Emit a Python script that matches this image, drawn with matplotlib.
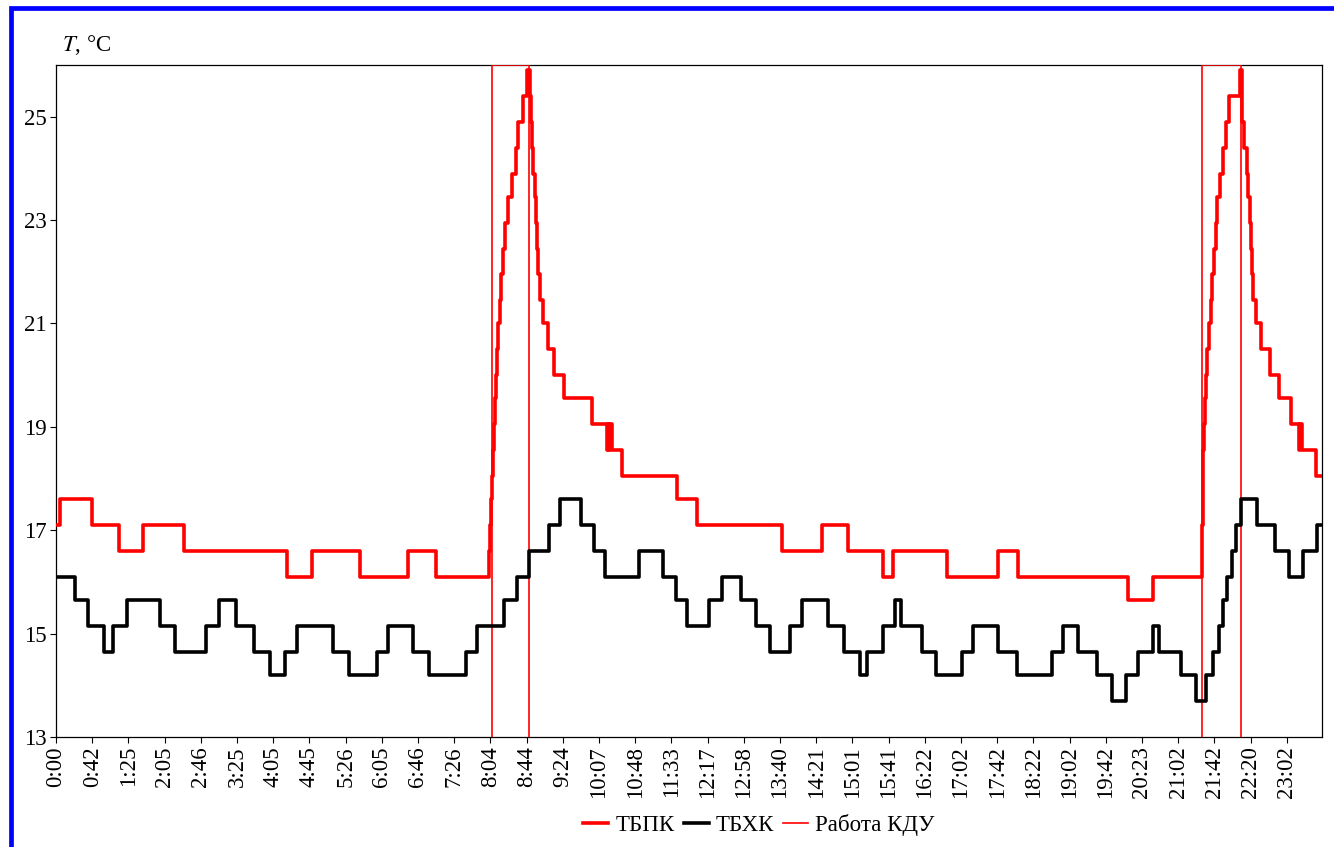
import matplotlib
matplotlib.use("Agg")
import matplotlib.pyplot as plt
from matplotlib.patches import Rectangle
from matplotlib.lines import Line2D

plt.rcParams['font.family'] = ['Liberation Serif', 'DejaVu Serif']
plt.rcParams['mathtext.fontset'] = 'stix'

# ---- data -------------------------------------------------------------
# time-axis labels (one label every 40 samples)
tick_labels = ["0:00", "0:42", "1:25", "2:05", "2:46", "3:25", "4:05", "4:45",
               "5:26", "6:05", "6:46", "7:26", "8:04", "8:44", "9:24", "10:07",
               "10:48", "11:33", "12:17", "12:58", "13:40", "14:21", "15:01",
               "15:41", "16:22", "17:02", "17:42", "18:22", "19:02", "19:42",
               "20:23", "21:02", "21:42", "22:20", "23:02"]
samples_per_label = 40
n_samples = 1400

# ТБПК: sample index where a new value starts, and that value
tbpk_idx = [0, 4, 40, 70, 96, 141, 255, 283, 336, 389, 420,
            479, 480, 481, 482, 483, 484, 485, 486, 487, 488,
            491, 492, 494, 496, 499, 504, 508, 511, 516, 520,
            524, 525, 526, 527, 529, 530, 532, 533, 535, 538, 544, 550, 561,
            592, 609, 610, 611, 612, 614, 625, 686, 708, 802, 846, 875, 914,
            925, 985, 1041, 1063, 1185, 1212,
            1266, 1267, 1268, 1269, 1270, 1271, 1272, 1274, 1276, 1277, 1280,
            1282, 1283, 1286, 1290, 1293, 1296, 1308,
            1311, 1313, 1316, 1317, 1319, 1321, 1322, 1323, 1326, 1332, 1341,
            1352, 1365, 1374, 1375, 1377, 1392, 1399]
tbpk_val = [17.1, 17.6, 17.1, 16.6, 17.1, 16.6, 16.1, 16.6, 16.1, 16.6, 16.1,
            16.6, 17.1, 17.6, 18.05, 18.55, 19.05, 19.55, 20.0, 20.5, 21.0,
            21.45, 21.95, 22.45, 22.95, 23.45, 23.9, 24.4, 24.9, 25.4, 25.9,
            25.4, 24.9, 24.4, 23.9, 23.45, 22.95, 22.45, 21.95, 21.45, 21.0, 20.5, 20.0, 19.55,
            19.05, 18.55, 19.05, 18.55, 19.05, 18.55, 18.05, 17.6, 17.1, 16.6, 17.1, 16.6, 16.1,
            16.6, 16.1, 16.6, 16.1, 15.65, 16.1,
            17.1, 18.05, 18.55, 19.05, 19.55, 20.0, 20.5, 21.0, 21.45, 21.95, 22.45,
            22.95, 23.45, 23.9, 24.4, 24.9, 25.4, 25.9,
            24.9, 24.4, 23.9, 23.45, 22.95, 22.45, 21.95, 21.45, 21.0, 20.5, 20.0,
            19.55, 19.05, 18.55, 19.05, 18.55, 18.05, 18.05]

# ТБХК
tbhk_idx = [0, 21, 35, 53, 63, 78, 115, 131, 166, 180, 199, 219, 236, 253, 266,
            306, 324, 355, 367, 394, 412, 453, 465, 495, 509, 523, 545, 557, 580,
            595, 607, 644, 671, 685, 697, 722, 736, 757, 774, 789, 811, 824, 853,
            871, 888, 896, 914, 927, 934, 957, 972, 1001, 1013, 1041, 1062, 1101,
            1113, 1129, 1150, 1167, 1182, 1196, 1212, 1219, 1243, 1260, 1271,
            1279, 1285, 1290, 1294, 1300, 1304, 1309, 1327, 1347, 1363, 1378,
            1393, 1399]
tbhk_val = [16.1, 15.65, 15.15, 14.65, 15.15, 15.65, 15.15, 14.65, 15.15, 15.65,
            15.15, 14.65, 14.2, 14.65, 15.15, 14.65, 14.2, 14.65, 15.15, 14.65,
            14.2, 14.65, 15.15, 15.65, 16.1, 16.6, 17.1, 17.6, 17.1, 16.6, 16.1,
            16.6, 16.1, 15.65, 15.15, 15.65, 16.1, 15.65, 15.15, 14.65, 15.15,
            15.65, 15.15, 14.65, 14.2, 14.65, 15.15, 15.65, 15.15, 14.65, 14.2,
            14.65, 15.15, 14.65, 14.2, 14.65, 15.15, 14.65, 14.2, 13.7, 14.2,
            14.65, 15.15, 14.65, 14.2, 13.7, 14.2, 14.65, 15.15, 15.65, 16.1,
            16.6, 17.1, 17.6, 17.1, 16.6, 16.1, 16.6, 17.1, 17.1]

# Работа КДУ (on = 26, off = 0)
kdu_idx = [0, 482, 523, 1266, 1309, 1399]
kdu_val = [0, 26, 0, 26, 0, 0]

y_ticks = [13, 15, 17, 19, 21, 23, 25]

# ---- figure -----------------------------------------------------------
W, H = 1334, 847
fig = plt.figure(figsize=(W / 100, H / 100), dpi=100)
ax = fig.add_axes([56 / W, 1 - 737 / H, (1322 - 56) / W, (737 - 65) / H])

fs = 16.5
ax.plot(kdu_idx, kdu_val, drawstyle='steps-post', color='#ff0000', lw=1.2,
        zorder=3, label='Работа КДУ')
ax.plot(tbhk_idx, tbhk_val, drawstyle='steps-post', color='black', lw=2.6,
        zorder=4, label='ТБХК')
ax.plot(tbpk_idx, tbpk_val, drawstyle='steps-post', color='#ff0000', lw=2.6,
        zorder=5, label='ТБПК')

ax.set_xlim(0, n_samples - 1)
ax.set_ylim(13, 26)
ax.set_yticks(y_ticks)
ax.set_yticklabels([str(v) for v in y_ticks], fontsize=fs)
ax.set_xticks([i * samples_per_label for i in range(len(tick_labels))])
ax.set_xticklabels(tick_labels, rotation=90, fontsize=fs)
ax.tick_params(axis='both', direction='out', length=4.5, width=0.8, pad=2)
for sp in ax.spines.values():
    sp.set_linewidth(0.9)
    sp.set_color('black')

fig.text(62 / W, 1 - 51 / H, r'$\mathit{T}$, °C', fontsize=fs, ha='left',
         va='baseline')

handles = [Line2D([], [], color='#ff0000', lw=2.6),
           Line2D([], [], color='black', lw=2.6),
           Line2D([], [], color='#ff0000', lw=1.2)]
fig.legend(handles, ['ТБПК', 'ТБХК', 'Работа КДУ'], loc='center',
           bbox_to_anchor=(759 / W, 1 - 825 / H), ncol=3, frameon=False,
           fontsize=fs, handlelength=1.1, handletextpad=0.3,
           columnspacing=0.4, borderaxespad=0)

# blue frame
fig.patches.append(Rectangle((10.5 / W, -0.05), 1.2, 1 - 8 / H + 0.05,
                             transform=fig.transFigure, fill=False,
                             edgecolor='#0000ff', lw=3.4, zorder=10))

fig.savefig('out.png', dpi=100)
